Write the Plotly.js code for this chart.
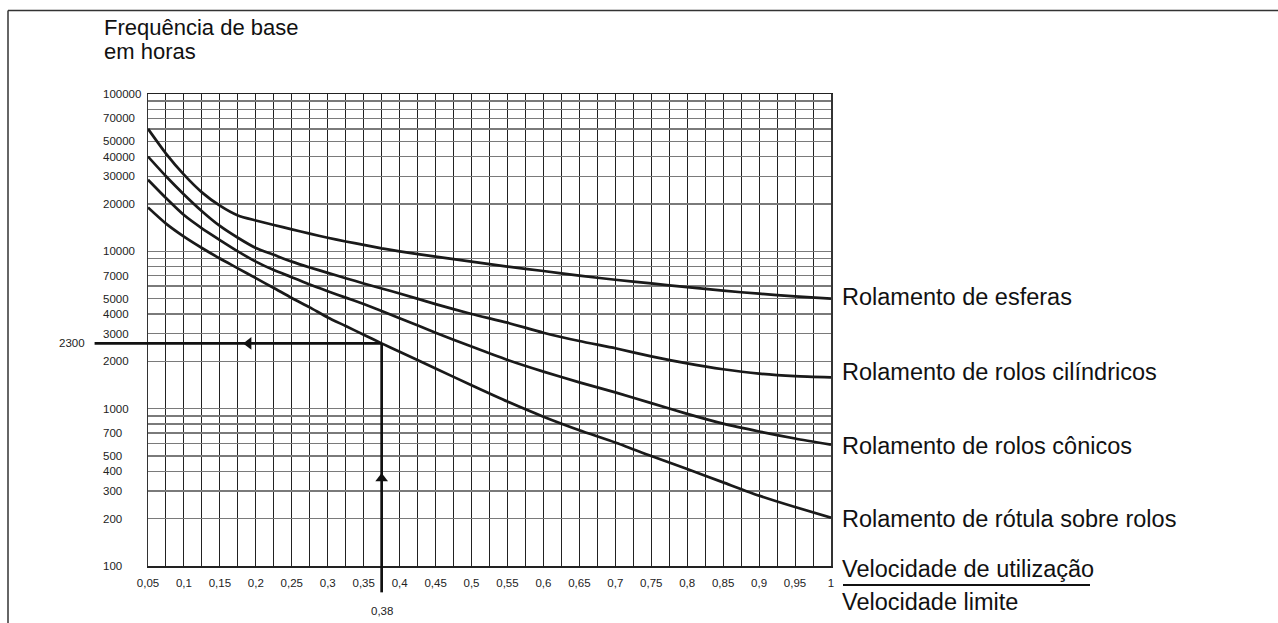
<!DOCTYPE html>
<html>
<head>
<meta charset="utf-8">
<script src="https://cdn.plot.ly/plotly-3.0.1.min.js"></script>
<style>
  html, body { margin: 0; padding: 0; background: #ffffff; }
  #chart { width: 1278px; height: 623px; }
</style>
</head>
<body>
<div id="chart"></div>
<script>
// ---------------- DATA ----------------
const speedRatio = [0.05, 0.075, 0.1, 0.125, 0.15, 0.175, 0.2, 0.225, 0.25, 0.275, 0.3, 0.325, 0.35, 0.375,
                    0.4, 0.45, 0.5, 0.55, 0.6, 0.65, 0.7, 0.75, 0.8, 0.85, 0.9, 0.95, 1.0];

const esferas    = [60000, 41800, 30700, 23700, 19500, 16900, 15700, 14700, 13800, 12950, 12200, 11550, 11000, 10450,
                    10000, 9250, 8600, 8000, 7500, 7000, 6600, 6250, 5920, 5620, 5380, 5170, 5000];
const cilindricos = [40000, 30000, 23000, 18000, 14500, 12200, 10500, 9500, 8600, 7900, 7300, 6750, 6250, 5800,
                    5400, 4620, 4000, 3520, 3040, 2690, 2420, 2150, 1940, 1780, 1670, 1610, 1580];
const conicos    = [28500, 21800, 17000, 14000, 11800, 10000, 8600, 7600, 6850, 6150, 5580, 5080, 4620, 4180,
                    3760, 3040, 2480, 2040, 1720, 1470, 1270, 1085, 927, 803, 716, 646, 590];
const rotula     = [19000, 15000, 12400, 10500, 9000, 7800, 6750, 5850, 5050, 4400, 3800, 3350, 2950, 2600,
                    2300, 1800, 1410, 1110, 890, 730, 610, 500, 413, 340, 280, 237, 203];

const seriesNames = ['Rolamento de esferas', 'Rolamento de rolos cilíndricos',
                     'Rolamento de rolos cônicos', 'Rolamento de rótula sobre rolos'];
const seriesLabelHours = [5130, 1710, 580, 198];

const xTickVals   = [0.05, 0.1, 0.15, 0.2, 0.25, 0.3, 0.35, 0.4, 0.45, 0.5, 0.55, 0.6, 0.65, 0.7, 0.75, 0.8, 0.85, 0.9, 0.95, 1];
const xTickLabels = ['0,05', '0,1', '0,15', '0,2', '0,25', '0,3', '0,35', '0,4', '0,45', '0,5',
                     '0,55', '0,6', '0,65', '0,7', '0,75', '0,8', '0,85', '0,9', '0,95', '1'];
const yTickVals   = [100000, 70000, 50000, 40000, 30000, 20000, 10000, 7000, 5000, 4000, 3000, 2000,
                     1000, 700, 500, 400, 300, 200, 100];
const yTickLabels = ['100000', '70000', '50000', '40000', '30000', '20000', '10000', '7000', '5000', '4000',
                     '3000', '2000', '1000', '700', '500', '400', '300', '200', '100'];
const gridMantissas = [1, 2, 3, 4, 5, 6, 7, 8, 9];
const gridDecades   = [100, 1000, 10000];
const xRange = [0.05, 1];
const yRangeHours = [100, 100000];

// worked example (0,38 -> 2300 h)
const exampleX = [-0.0243, 0.375, 0.375];
const exampleY = [2600, 2600, 68];
const exampleHoursText = '2300';
const exampleSpeedText = '0,38';
const arrowLeftX = [0.19], arrowLeftY = [2600];
const arrowUpX = [0.375],  arrowUpY = [360];

const titleLines = ['Frequência de base', 'em horas'];
const xTitleTop = 'Velocidade de utilização';
const xTitleBottom = 'Velocidade limite';

// ---------------- CHART ----------------
const FONT = '"Liberation Sans", Arial, Helvetica, sans-serif';
const INK = '#1a1a1a';

const yGridVals = [];
gridDecades.forEach(d => gridMantissas.forEach(m => yGridVals.push(m * d)));
yGridVals.push(100000);

const yLogRange = [Math.log10(yRangeHours[0]), Math.log10(yRangeHours[1])];
// data -> paper fraction, following the axis definitions (linear x, log y)
const dataToPaperX = x => (x - xRange[0]) / (xRange[1] - xRange[0]);
const dataToPaperY = y => (Math.log10(y) - yLogRange[0]) / (yLogRange[1] - yLogRange[0]);

const seriesData = [esferas, cilindricos, conicos, rotula];
const traces = seriesData.map((ys, i) => ({
  type: 'scatter', mode: 'lines', x: speedRatio, y: ys, name: seriesNames[i],
  line: { color: INK, width: 2.7, shape: 'spline', smoothing: 0.6 },
  hoverinfo: 'skip'
}));
traces.push({
  type: 'scatter', mode: 'markers', x: arrowLeftX, y: arrowLeftY, cliponaxis: false,
  marker: { symbol: 'triangle-left', size: 11, color: '#111' }, hoverinfo: 'skip'
});
traces.push({
  type: 'scatter', mode: 'markers', x: arrowUpX, y: arrowUpY, cliponaxis: false,
  marker: { symbol: 'triangle-up', size: 11, color: '#111' }, hoverinfo: 'skip'
});

const annotations = [];
yTickVals.forEach((v, i) => annotations.push({
  xref: 'paper', yref: 'y', x: 0, y: Math.log10(v), text: yTickLabels[i],
  xanchor: 'left', yanchor: 'middle', xshift: -47, showarrow: false,
  font: { family: FONT, size: 11.5, color: '#222' }
}));
titleLines.forEach((t, i) => annotations.push({
  xref: 'paper', yref: 'paper', x: 0, y: 1, text: t, xanchor: 'left', yanchor: 'middle',
  xshift: -46, yshift: i === 0 ? 66.5 : 42.5, showarrow: false,
  font: { family: FONT, size: 22, color: '#111' }
}));
seriesNames.forEach((n, i) => annotations.push({
  xref: 'x', yref: 'y', x: 1, y: Math.log10(seriesLabelHours[i]), text: n,
  xanchor: 'left', yanchor: 'middle', xshift: 9, showarrow: false,
  font: { family: FONT, size: 23.5, color: '#111' }
}));
annotations.push({
  xref: 'paper', yref: 'paper', x: 1, y: 0, text: xTitleTop, xanchor: 'left', yanchor: 'middle',
  xshift: 9, yshift: -2.5, showarrow: false, font: { family: FONT, size: 23.5, color: '#111' }
});
annotations.push({
  xref: 'paper', yref: 'paper', x: 1, y: 0, text: xTitleBottom, xanchor: 'left', yanchor: 'middle',
  xshift: 9, yshift: -36, showarrow: false, font: { family: FONT, size: 23.5, color: '#111' }
});
annotations.push({
  xref: 'paper', yref: 'paper', x: dataToPaperX(exampleX[0]), y: dataToPaperY(exampleY[0]), text: exampleHoursText,
  xanchor: 'right', yanchor: 'middle', xshift: -8, showarrow: false,
  font: { family: FONT, size: 11.5, color: '#222' }
});
annotations.push({
  xref: 'paper', yref: 'paper', x: dataToPaperX(exampleX[2]), y: dataToPaperY(exampleY[2]), text: exampleSpeedText,
  xanchor: 'center', yanchor: 'middle', yshift: -19, showarrow: false,
  font: { family: FONT, size: 11.5, color: '#222' }
});

const W = 1278, H = 623, ML = 148, MR = 447, MT = 94, MB = 57;
const PW = W - ML - MR, PH = H - MT - MB;
const pxToPaperX = px => (px - ML) / PW;
const pxToPaperY = py => (H - MB - py) / PH;

const shapes = [
  // outer frame (top and left)
  { type: 'line', xref: 'paper', yref: 'paper', x0: pxToPaperX(8), x1: pxToPaperX(1290), y0: pxToPaperY(10.5), y1: pxToPaperY(10.5),
    line: { color: '#333', width: 1.5 } },
  { type: 'line', xref: 'paper', yref: 'paper', x0: pxToPaperX(8), x1: pxToPaperX(8), y0: pxToPaperY(10.5), y1: pxToPaperY(640),
    line: { color: '#333', width: 1.5 } },
  // fraction bar for x title
  { type: 'line', xref: 'paper', yref: 'paper', x0: pxToPaperX(843), x1: pxToPaperX(1090), y0: pxToPaperY(585), y1: pxToPaperY(585),
    line: { color: '#111', width: 1.8 } }
];
// worked example lines (extend outside plot area, so drawn as unclipped paper shapes)
for (let i = 0; i < exampleX.length - 1; i++) {
  shapes.push({
    type: 'line', xref: 'paper', yref: 'paper', layer: 'above',
    x0: dataToPaperX(exampleX[i]), y0: dataToPaperY(exampleY[i]),
    x1: dataToPaperX(exampleX[i + 1]), y1: dataToPaperY(exampleY[i + 1]),
    line: { color: '#111', width: 2.7 }
  });
}

const layout = {
  width: W, height: H,
  margin: { l: ML, r: MR, t: MT, b: MB, pad: 0, autoexpand: false },
  paper_bgcolor: '#ffffff', plot_bgcolor: '#ffffff',
  showlegend: false,
  font: { family: FONT, color: '#111' },
  xaxis: {
    range: xRange, tickmode: 'array', tickvals: xTickVals, ticktext: xTickLabels,
    tickfont: { family: FONT, size: 11.5, color: '#222' }, ticks: '', ticklabelstandoff: 6,
    showgrid: true, gridcolor: '#222', gridwidth: 1,
    minor: { tick0: 0.05, dtick: 0.025, showgrid: true, gridcolor: '#222', gridwidth: 1, ticks: '' },
    showline: true, linecolor: '#222', linewidth: 1.5, mirror: true, zeroline: false, fixedrange: true
  },
  yaxis: {
    type: 'log', range: yLogRange, tickmode: 'array', tickvals: yGridVals, showticklabels: false, ticks: '',
    showgrid: true, gridcolor: '#7a7a7a', gridwidth: 1.5,
    showline: true, linecolor: '#333', linewidth: 1.5, mirror: true, zeroline: false, fixedrange: true
  },
  shapes: shapes,
  annotations: annotations
};

Plotly.newPlot('chart', traces, layout, { staticPlot: true, displayModeBar: false });
</script>
</body>
</html>
